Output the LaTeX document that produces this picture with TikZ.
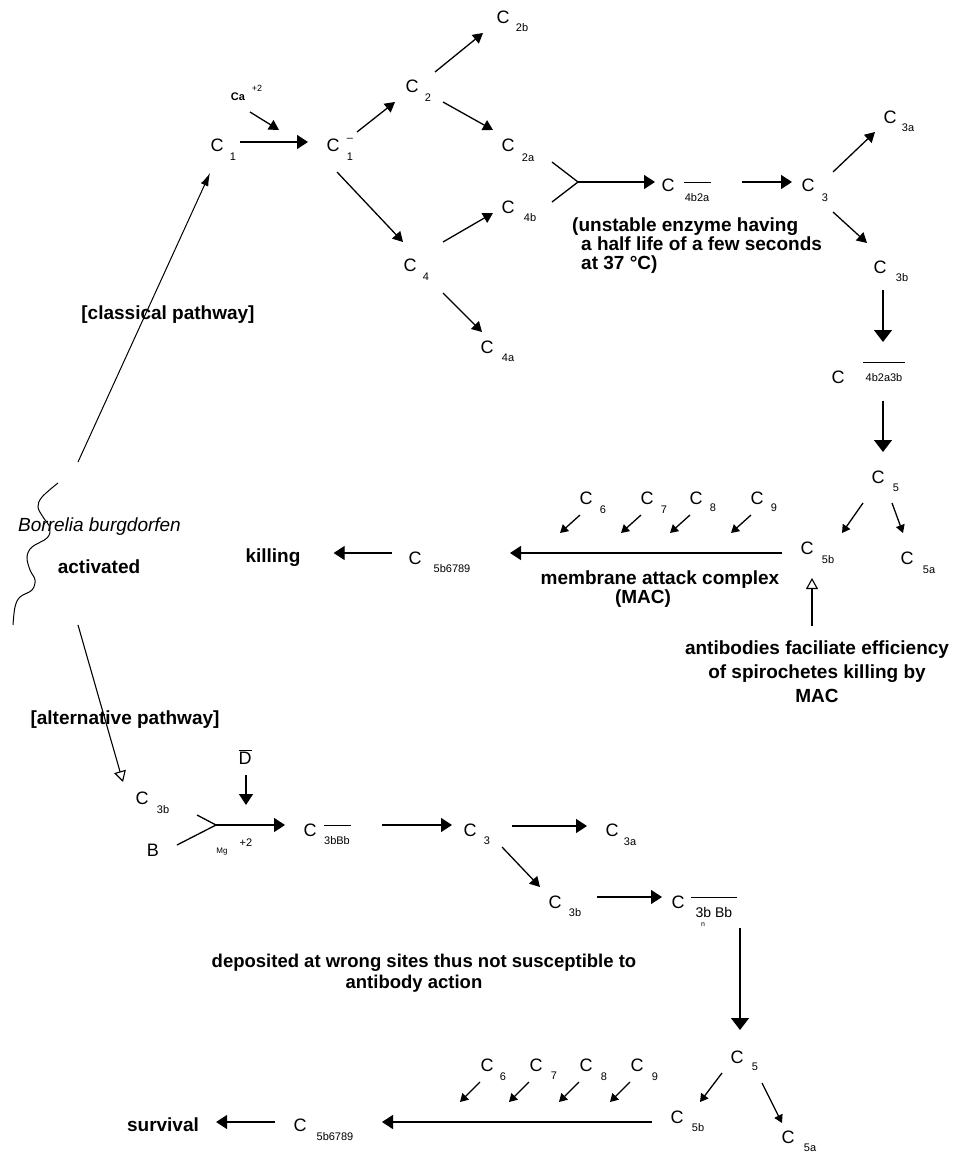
\documentclass[tikz,border=0pt]{standalone}
\usepackage{fontspec}
\setmainfont{Liberation Sans}
\usetikzlibrary{arrows.meta,calc}
\newcommand{\mkC}[4]{\node[cc] (#1) at (#2) {C}; \node[ss] (#1s) at ($(#1)+(#3)$) {#4};}
\begin{document}
\begin{tikzpicture}[x=1pt,y=-1pt,
 cc/.style={font=\fontsize{18}{18}\selectfont, inner sep=0},
 ss/.style={font=\fontsize{11}{12}\selectfont, inner sep=0},
 lbl/.style={font=\bfseries\fontsize{19}{19}\selectfont, inner sep=0},
 ln/.style={line width=1.3pt},
 arr/.style={ln,-{Triangle[length=10pt,width=11pt]}},
 harr/.style={ln,-{Triangle[length=11pt,width=14pt]}},
 varr/.style={ln,-{Triangle[length=12pt,width=18pt]}},
 sarr/.style={ln,-{Triangle[length=8pt,width=9pt]}},
 oarr/.style={line width=1.1pt,-{Triangle[open,length=11pt,width=12pt,line width=1.1pt]}}
]
\fill[white] (0,0) rectangle (960,1156);
\useasboundingbox (0,0) rectangle (960,1156);

% ---------- classical pathway ----------
\node[font=\bfseries\fontsize{11}{11}\selectfont,inner sep=0] (ca) at (238,97) {Ca};
\node[font=\fontsize{9}{9}\selectfont,inner sep=0] (cap) at (257,88) {+2};
\mkC{c1}{217,145}{16,12}{1}
\node[cc] (cm1) at (333,145) {C};
\node[ss] (cm1b) at (350,140) {–};
\node[ss] (cm1s) at (350,157) {1};
\mkC{c2}{412,86}{16,12}{2}
\mkC{c2b}{503,17}{19,11}{2b}
\mkC{c2a}{508,145}{20,13}{2a}
\mkC{c4}{410,265}{16,12}{4}
\mkC{c4b}{508,207}{22,11}{4b}
\mkC{c4a}{487,347}{21,11}{4a}
\node[cc] (c4b2a) at (668,185) {C};
\node[ss,align=center,anchor=north] (c4b2as) at (697,182) {\rule{27pt}{1pt}\\[6pt]4b2a};
\mkC{c3}{808,185}{17,13}{3}
\mkC{c3a}{890,117}{18,11}{3a}
\mkC{c3b}{880,267}{22,11}{3b}
\node[cc] (c4b2a3b) at (838,377) {C};
\node[ss,align=center,anchor=north] (c4b2a3bs) at (884,362) {\rule{42pt}{1pt}\\[6pt]4b2a3b};
\mkC{c5}{878,477}{18,11}{5}
\mkC{c5b}{807,548}{21,12}{5b}
\mkC{c5a}{907,558}{22,12}{5a}
\mkC{c6}{586,498}{17,12}{6}
\mkC{c7}{647,498}{17,12}{7}
\mkC{c8}{696,498}{17,10}{8}
\mkC{c9}{757,498}{17,10}{9}
\mkC{ck}{415,558}{37,11}{5b6789}

\node[lbl,anchor=west,align=left] (unst) at (572,246) {(unstable enzyme having\\\hspace*{9pt}a half life of a few seconds\\\hspace*{9pt}at 37 °C)};
\node[lbl] (mac1) at (660,580) {membrane attack complex};
\node[lbl] (mac2) at (643,599) {(MAC)};
\node[lbl,align=center,font=\bfseries\fontsize{19}{24}\selectfont] (ab) at (817,672) {antibodies faciliate efficiency\\of spirochetes killing by\\MAC};
\node[lbl] (kill) at (273,558) {killing};

% ---------- left ----------
\node[font=\itshape\fontsize{19}{19}\selectfont,inner sep=0,anchor=west] (bb) at (18,527) {Borrelia burgdorfen};
\node[lbl] (act) at (99,567) {activated};
\node[lbl] (cp) at (168,315) {[classical pathway]};
\node[lbl] (ap) at (125,720) {[alternative pathway]};
\draw[line width=1pt] plot[smooth,tension=0.6] coordinates {(58,483) (42,497) (38,507) (43,517) (50,528) (47,538) (32,547) (27,557) (30,570) (35,580) (32,590) (20,597) (15,607) (13,625)};

% ---------- alternative pathway ----------
\node[cc] (dbar) at (245,757) {$\overline{\mbox{D}}$};
\mkC{c3bx}{142,798}{21,12}{3b}
\node[cc] (bx) at (153,850) {B};
\node[font=\fontsize{8}{8}\selectfont,inner sep=0] (mg) at (222,852) {Mg};
\node[ss] (mgp) at (246,843) {+2};
\node[cc] (c3bbb) at (310,830) {C};
\node[ss,align=center,anchor=north] (c3bbbs) at (337,825) {\rule{27pt}{1pt}\\[6pt]3bBb};
\mkC{c3x}{470,830}{17,11}{3}
\mkC{c3ax}{612,830}{18,12}{3a}
\mkC{c3by}{555,902}{20,11}{3b}
\node[cc] (cn) at (678,902) {C};
\node[inner sep=0,align=center,anchor=north,font=\fontsize{14}{14}\selectfont] (cns) at (714,897) {\rule{46pt}{1pt}\\[5pt]3b Bb};
\node[font=\fontsize{7}{7}\selectfont,inner sep=0] (cnn) at (703,925) {n};
\node[lbl,font=\bfseries\fontsize{18.5}{18.5}\selectfont] (dep1) at (424,963) {deposited at wrong sites thus not susceptible to};
\node[lbl,font=\bfseries\fontsize{18.5}{18.5}\selectfont] (dep2) at (414,984) {antibody action};
\mkC{c5x}{737,1057}{18,10}{5}
\mkC{c5bx}{677,1117}{21,11}{5b}
\mkC{c5ax}{788,1137}{22,11}{5a}
\mkC{c6x}{487,1065}{16,12}{6}
\mkC{c7x}{536,1065}{18,11}{7}
\mkC{c8x}{586,1065}{18,12}{8}
\mkC{c9x}{637,1065}{18,12}{9}
\mkC{ckx}{300,1125}{35,12}{5b6789}
\node[lbl] (surv) at (163,1125) {survival};

% ---------- connectors: classical ----------
\draw[harr] ($(c1)+(23,-3)$) -- ($(cm1)+(-25,-3)$);
\draw[arr] ($(ca)+(12,15)$) -- ($(cm1)+(-54,-15)$);
\draw[arr] ($(cm1)+(24,-13)$) -- ($(c2)+(-17,16)$);
\draw[arr] ($(c2)+(23,-14)$) -- ($(c2b)+(-20,16)$);
\draw[arr] ($(c2)+(31,16)$) -- ($(c2a)+(-15,-15)$);
\draw[arr] ($(cm1)+(4,27)$) -- ($(c4)+(-7,-23)$);
\draw[arr] ($(c4)+(33,-23)$) -- ($(c4b)+(-15,6)$);
\draw[arr] ($(c4)+(33,28)$) -- ($(c4a)+(-5,-15)$);
\coordinate (f1) at (578,182);
\draw[ln] ($(c2a)+(44,17)$) -- (f1) -- ($(c4b)+(44,-5)$);
\draw[harr] (f1) -- ($(c4b2a)+(-13,-3)$);
\draw[harr] ($(c4b2a)+(74,-3)$) -- ($(c3)+(-16,-3)$);
\draw[arr] ($(c3)+(25,-13)$) -- ($(c3a)+(-15,15)$);
\draw[arr] ($(c3)+(25,27)$) -- ($(c3b)+(-13,-24)$);
\draw[varr] ($(c3b)+(3,23)$) -- ($(c4b2a3bs.north)+(-1,-20)$);
\draw[varr] ($(c4b2a3bs.south)+(-1,19)$) -- ($(c5)+(5,-25)$);
\draw[sarr] ($(c5)+(-15,26)$) -- ($(c5b)+(35,-15)$);
\draw[sarr] ($(c5)+(14,26)$) -- ($(c5a)+(-4,-25)$);
\foreach \n in {c6,c7,c8,c9} \draw[sarr] ($(\n)+(-6,17)$) -- ($(\n)+(-26,35)$);
\draw[harr] ($(c5b)+(-25,5)$) -- ($(ck)+(95,-5)$);
\draw[harr] ($(ck)+(-23,-5)$) -- ($(kill.east)+(33,-5)$);
\draw[oarr] ($(ab.north)+(-5,-15)$) -- ($(c5b)+(5,30)$);
\draw[line width=1pt,-{Latex[length=13pt,width=8pt]}] ($(bb.west)+(60,-65)$) -- ($(c1)+(-7,28)$);
\draw[oarr] ($(bb.west)+(60,98)$) -- ($(c3bx)+(-19,-16)$);

% ---------- connectors: alternative ----------
\draw[harr] ($(dbar)+(1,18)$) -- ($(dbar)+(1,48)$);
\coordinate (f2) at (216,825);
\draw[ln] ($(c3bx)+(55,17)$) -- (f2) -- ($(bx)+(24,-5)$);
\draw[harr] (f2) -- ($(c3bbb)+(-25,-5)$);
\draw[harr] ($(c3bbb)+(72,-5)$) -- ($(c3x)+(-18,-5)$);
\draw[harr] ($(c3x)+(42,-4)$) -- ($(c3ax)+(-25,-4)$);
\draw[arr] ($(c3x)+(32,17)$) -- ($(c3by)+(-15,-15)$);
\draw[harr] ($(c3by)+(42,-5)$) -- ($(cn)+(-16,-5)$);
\draw[varr] ($(cns.south)+(26,10)$) -- ($(c5x)+(3,-27)$);
\draw[sarr] ($(c5x)+(-15,16)$) -- ($(c5bx)+(23,-15)$);
\draw[sarr] ($(c5x)+(25,26)$) -- ($(c5ax)+(-6,-14)$);
\foreach \n in {c6x,c7x,c8x,c9x} \draw[sarr] ($(\n)+(-7,17)$) -- ($(\n)+(-27,37)$);
\draw[harr] ($(c5bx)+(-25,5)$) -- ($(ckx)+(82,-3)$);
\draw[harr] ($(ckx)+(-25,-3)$) -- ($(surv.east)+(17,-3)$);
\end{tikzpicture}
\end{document}
